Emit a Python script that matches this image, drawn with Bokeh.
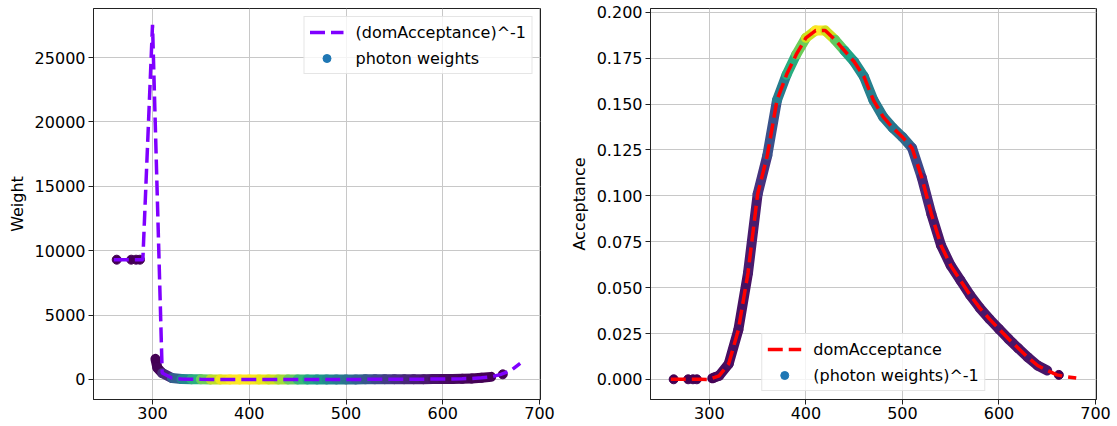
import numpy as np
from bokeh.plotting import figure
from bokeh.layouts import row
from bokeh.models import (ColumnDataSource, Legend, LegendItem, FixedTicker,
                          NumeralTickFormatter, Range1d)
from bokeh.palettes import Viridis256
from bokeh.transform import linear_cmap
from bokeh.embed import file_html
from bokeh.resources import INLINE

# ---------------- data ----------------
wavelength = [260, 270, 280, 290, 300, 310, 320, 330, 340, 350,
              360, 370, 380, 390, 400, 410, 420, 430, 440, 450,
              460, 470, 480, 490, 500, 510, 520, 530, 540, 550,
              560, 570, 580, 590, 600, 610, 620, 630, 640, 650,
              660, 670, 680]
dom_acceptance = [1.075e-4, 1.075e-4, 1.075e-4, 1.075e-4, 3.63e-5, 0.0020, 0.0085, 0.027, 0.058, 0.101,
                  0.122, 0.152, 0.166, 0.177, 0.186, 0.190, 0.190, 0.185, 0.179, 0.173,
                  0.165, 0.152, 0.143, 0.137, 0.132, 0.126, 0.110, 0.090, 0.073, 0.062,
                  0.054, 0.046, 0.039, 0.033, 0.0275, 0.022, 0.017, 0.012, 0.0076, 0.0049,
                  0.0025, 0.0015, 0.0008]

# dense photon band (wavelength, acceptance seen by the photons)
band_wl = [303, 305, 310, 320, 330, 340, 350, 360, 370, 380, 390, 400, 410, 420, 430,
           440, 450, 460, 470, 480, 490, 500, 510, 520, 530, 540, 550, 560, 570, 580,
           590, 600, 610, 620, 630, 640, 650]
band_acc = [0.000625, 0.0011, 0.0020, 0.0085, 0.027, 0.058, 0.101, 0.122, 0.152, 0.166,
            0.177, 0.186, 0.190, 0.190, 0.185, 0.179, 0.173, 0.165, 0.152, 0.143,
            0.137, 0.132, 0.126, 0.110, 0.090, 0.073, 0.062, 0.054, 0.046, 0.039,
            0.033, 0.0275, 0.022, 0.017, 0.012, 0.0076, 0.0049]
# colour level (viridis 0..1) of the band in each panel
left_level = [0.0, 0.0, 0.02, 0.22, 0.4, 0.55, 0.7, 0.85, 0.95, 1.0,
              1.0, 1.0, 0.98, 0.95, 0.9, 0.82, 0.72, 0.62, 0.56, 0.5,
              0.45, 0.4, 0.35, 0.3, 0.25, 0.2, 0.16, 0.13, 0.1, 0.08,
              0.06, 0.04, 0.03, 0.02, 0.01, 0.0, 0.0]
right_level = [0.0, 0.0, 0.02, 0.04, 0.04, 0.05, 0.1, 0.2, 0.3, 0.55,
               0.7, 0.85, 1.0, 1.0, 0.85, 0.65, 0.52, 0.45, 0.42, 0.4,
               0.4, 0.38, 0.3, 0.15, 0.08, 0.06, 0.06, 0.06, 0.06, 0.06,
               0.06, 0.06, 0.06, 0.06, 0.06, 0.06, 0.06]

# isolated photons
outlier_wl = [263, 278, 283, 287, 662]
outlier_acc = [1.075e-4, 1.075e-4, 1.075e-4, 1.075e-4, 0.0025]

x_ticks = [300, 400, 500, 600, 700]
left_y_ticks = [0, 5000, 10000, 15000, 20000, 25000]
right_y_ticks = [0.0, 0.025, 0.05, 0.075, 0.1, 0.125, 0.15, 0.175, 0.2]

FONT = "DejaVu Sans"


def segments(x, y, lvl):
    xs = [[x[i], x[i + 1]] for i in range(len(x) - 1)]
    ys = [[y[i], y[i + 1]] for i in range(len(y) - 1)]
    lv = [(lvl[i] + lvl[i + 1]) / 2 for i in range(len(lvl) - 1)]
    return ColumnDataSource(dict(xs=xs, ys=ys, lvl=lv))


def style(p, ylabel, yticks, yfmt):
    p.xaxis.ticker = FixedTicker(ticks=x_ticks)
    p.yaxis.ticker = FixedTicker(ticks=yticks)
    p.yaxis.formatter = yfmt
    for ax in (p.xaxis[0], p.yaxis[0]):
        ax.major_label_text_font = FONT
        ax.major_label_text_font_size = "16px"
        ax.major_label_text_color = "black"
        ax.major_tick_out = 5
        ax.major_tick_in = 0
        ax.minor_tick_line_color = None
        ax.axis_line_color = "#222222"
        ax.major_tick_line_color = "#222222"
        ax.axis_label_text_font = FONT
        ax.axis_label_text_font_size = "16px"
        ax.axis_label_text_font_style = "normal"
        ax.axis_label_text_color = "black"
    p.xaxis.major_label_standoff = 2
    p.yaxis.major_label_standoff = 3
    p.yaxis.axis_label = ylabel
    p.yaxis.axis_label_standoff = 5
    p.grid.grid_line_color = "#c8c8c8"
    p.grid.grid_line_width = 1
    p.outline_line_color = "#222222"
    p.outline_line_width = 1


def legend(items, location):
    return Legend(items=items, location=location, margin=8, padding=5,
                  spacing=6, glyph_width=34, glyph_height=20, label_height=20,
                  label_standoff=12, label_text_font=FONT,
                  label_text_font_size="16px", label_text_color="black",
                  border_line_color="#cccccc", border_line_width=1,
                  background_fill_color="white", background_fill_alpha=0.8)


cmap_field = lambda: linear_cmap("lvl", Viridis256, 0, 1)

# ---------------- left panel: weights ----------------
p1 = figure(width=560, height=426, x_range=Range1d(239, 701),
            y_range=Range1d(-1554, 28808), output_backend="svg",
            toolbar_location=None, min_border_left=93, min_border_right=20,
            min_border_top=8, min_border_bottom=27)
style(p1, "Weight", left_y_ticks, NumeralTickFormatter(format="0"))

band_w = [1.0 / a for a in band_acc]
p1.multi_line(xs="xs", ys="ys", source=segments(band_wl, band_w, left_level),
              line_color=cmap_field(), line_width=10, line_cap="round")
p1.scatter(outlier_wl, [1.0 / a for a in outlier_acc], size=9, color="#440154")
r1_line = p1.line(wavelength, [1.0 / a for a in dom_acceptance], line_color="#7f00ff",
                  line_width=3.5, line_dash="15 6")
r1_dot = p1.scatter([np.nan], [np.nan], size=9, color="#1f77b4")
p1.add_layout(legend([LegendItem(label="(domAcceptance)^-1", renderers=[r1_line]),
                      LegendItem(label="photon weights", renderers=[r1_dot])],
                     "top_right"))

# ---------------- right panel: acceptance ----------------
p2 = figure(width=557, height=426, x_range=Range1d(239, 701),
            y_range=Range1d(-0.0109, 0.202), output_backend="svg",
            toolbar_location=None, min_border_left=90, min_border_right=21,
            min_border_top=8, min_border_bottom=27)
style(p2, "Acceptance", right_y_ticks, NumeralTickFormatter(format="0.000"))

p2.multi_line(xs="xs", ys="ys", source=segments(band_wl, band_acc, right_level),
              line_color=cmap_field(), line_width=10, line_cap="round")
p2.scatter(outlier_wl, outlier_acc, size=9, color="#440154")
r2_line = p2.line(wavelength, dom_acceptance, line_color="#ff0000",
                  line_width=3.5, line_dash="15 6")
r2_dot = p2.scatter([np.nan], [np.nan], size=9, color="#1f77b4")
p2.add_layout(legend([LegendItem(label="domAcceptance", renderers=[r2_line]),
                      LegendItem(label="(photon weights)^-1", renderers=[r2_dot])],
                     "bottom_center"))

layout = row(p1, p2)
open("out.html", "w").write(file_html(layout, INLINE))
